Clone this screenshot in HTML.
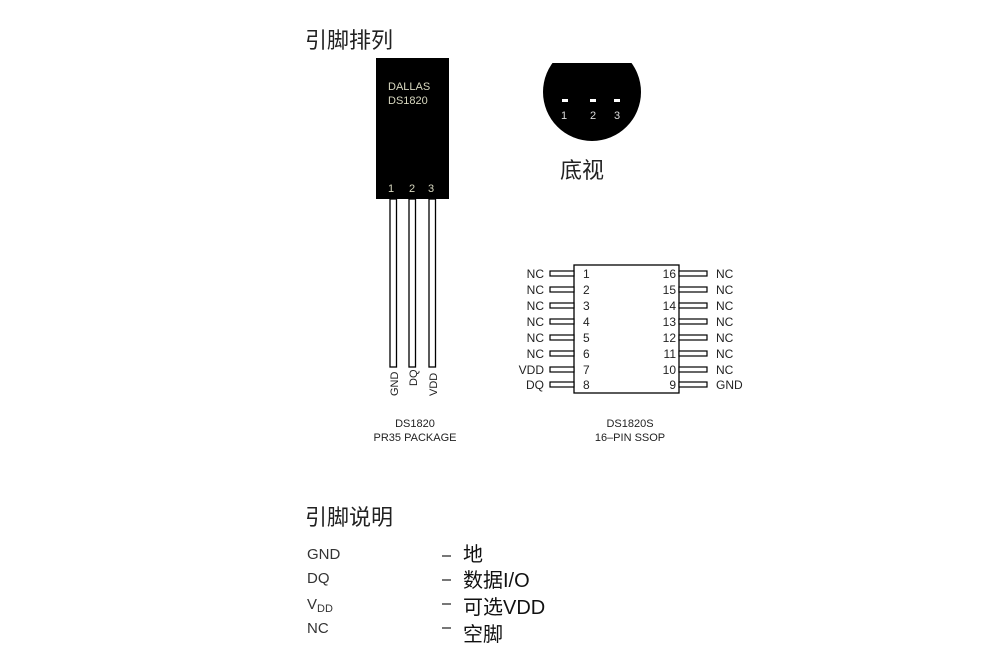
<!DOCTYPE html>
<html><head><meta charset="utf-8"><style>
html,body{margin:0;padding:0;background:#fff;}
svg{display:block;}
text{font-family:"Liberation Sans","Noto Sans CJK SC",sans-serif;}
.cj{font-family:"Noto Sans CJK SC","WenQuanYi Zen Hei",sans-serif;}
.mj{font-family:"Liberation Mono","Noto Sans CJK SC",monospace;}
</style></head><body>
<svg width="1001" height="664" viewBox="0 0 1001 664" xmlns="http://www.w3.org/2000/svg">
<text x="305" y="48" font-size="22" class="cj" fill="#222">引脚排列</text>
<rect x="376" y="58" width="73" height="141" fill="#000"/>
<text x="388" y="90" font-size="11" fill="#d8d8c0">DALLAS</text>
<text x="388" y="104" font-size="11" fill="#d8d8c0">DS1820</text>
<text x="388" y="192" font-size="11" fill="#d8d8c0">1</text>
<text x="409" y="192" font-size="11" fill="#d8d8c0">2</text>
<text x="428" y="192" font-size="11" fill="#d8d8c0">3</text>
<g fill="#fff" stroke="#000" stroke-width="1.3">
<rect x="390" y="199" width="6.5" height="168"/>
<rect x="409" y="199" width="6.5" height="168"/>
<rect x="429" y="199" width="6.5" height="168"/>
</g>
<g font-size="11" fill="#222">
<text transform="translate(398,396) rotate(-90)">GND</text>
<text transform="translate(417,386) rotate(-90)">DQ</text>
<text transform="translate(437,396) rotate(-90)">VDD</text>
</g>
<text x="415" y="427" font-size="11" fill="#222" text-anchor="middle">DS1820</text>
<text x="415" y="441" font-size="11" fill="#222" text-anchor="middle">PR35 PACKAGE</text>
<defs><clipPath id="c"><rect x="500" y="63" width="200" height="100"/></clipPath></defs>
<circle cx="592" cy="92" r="49" fill="#000" clip-path="url(#c)"/>
<rect x="562" y="99" width="6" height="3" fill="#fff"/>
<rect x="590" y="99" width="6" height="3" fill="#fff"/>
<rect x="614" y="99" width="6" height="3" fill="#fff"/>
<text x="561" y="119" font-size="11" fill="#ddd">1</text>
<text x="590" y="119" font-size="11" fill="#ddd">2</text>
<text x="614" y="119" font-size="11" fill="#ddd">3</text>
<text x="560" y="178" font-size="22" class="cj" fill="#222">底视</text>
<rect x="574" y="265" width="105" height="128" fill="#fff" stroke="#000" stroke-width="1.3"/>
<g fill="#fff" stroke="#000" stroke-width="1.2">
<rect x="550" y="271" width="24" height="5"/><rect x="550" y="287" width="24" height="5"/>
<rect x="550" y="303" width="24" height="5"/><rect x="550" y="319" width="24" height="5"/>
<rect x="550" y="335" width="24" height="5"/><rect x="550" y="351" width="24" height="5"/>
<rect x="550" y="367" width="24" height="5"/><rect x="550" y="382" width="24" height="5"/>
<rect x="679" y="271" width="28" height="5"/><rect x="679" y="287" width="28" height="5"/>
<rect x="679" y="303" width="28" height="5"/><rect x="679" y="319" width="28" height="5"/>
<rect x="679" y="335" width="28" height="5"/><rect x="679" y="351" width="28" height="5"/>
<rect x="679" y="367" width="28" height="5"/><rect x="679" y="382" width="28" height="5"/>
</g>
<g font-size="12" fill="#222">
<g text-anchor="end">
<text x="544" y="278">NC</text><text x="544" y="294">NC</text><text x="544" y="310">NC</text><text x="544" y="326">NC</text>
<text x="544" y="342">NC</text><text x="544" y="358">NC</text><text x="544" y="374">VDD</text><text x="544" y="389">DQ</text>
<text x="676" y="278">16</text><text x="676" y="294">15</text><text x="676" y="310">14</text><text x="676" y="326">13</text>
<text x="676" y="342">12</text><text x="676" y="358">11</text><text x="676" y="374">10</text><text x="676" y="389">9</text>
</g>
<text x="583" y="278">1</text><text x="583" y="294">2</text><text x="583" y="310">3</text><text x="583" y="326">4</text>
<text x="583" y="342">5</text><text x="583" y="358">6</text><text x="583" y="374">7</text><text x="583" y="389">8</text>
<text x="716" y="278">NC</text><text x="716" y="294">NC</text><text x="716" y="310">NC</text><text x="716" y="326">NC</text>
<text x="716" y="342">NC</text><text x="716" y="358">NC</text><text x="716" y="374">NC</text><text x="716" y="389">GND</text>
</g>
<text x="630" y="427" font-size="11" fill="#222" text-anchor="middle">DS1820S</text>
<text x="630" y="441" font-size="11" fill="#222" text-anchor="middle">16–PIN SSOP</text>
<text x="305" y="525" font-size="22" class="cj" fill="#222">引脚说明</text>
<g font-size="15" fill="#333">
<text x="307" y="559">GND</text>
<text x="307" y="583">DQ</text>
<text x="307" y="609">V<tspan font-size="11" dy="3">DD</tspan></text>
<text x="307" y="633">NC</text>
</g>
<g fill="#777"><rect x="442" y="555" width="9" height="2"/><rect x="442" y="579" width="9" height="2"/><rect x="442" y="603" width="9" height="2"/><rect x="442" y="627" width="9" height="2"/></g>
<g font-size="20" class="mj" fill="#111">
<text x="463" y="561">地</text>
<text x="463" y="587">数据I/O</text>
<text x="463" y="614">可选VDD</text>
<text x="463" y="641">空脚</text>
</g>
</svg>
</body></html>
